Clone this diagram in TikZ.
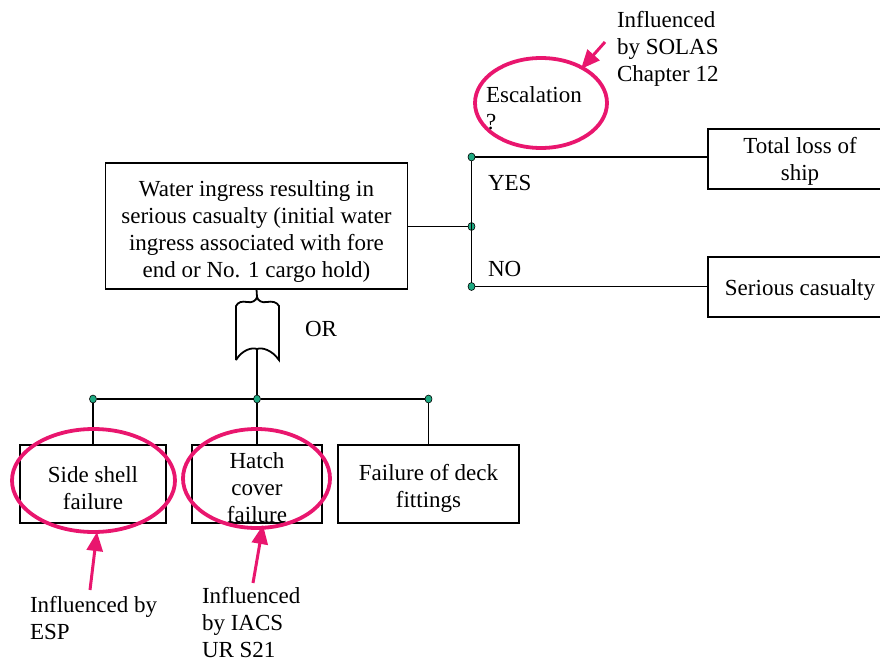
\documentclass[tikz,border=0pt]{standalone}
\usepackage{fontspec}
\setmainfont{Liberation Serif}
\usetikzlibrary{shapes.geometric,arrows.meta}
\definecolor{hl}{RGB}{233,22,110}
\definecolor{dotc}{RGB}{30,170,130}
\begin{document}
\begin{tikzpicture}[x=1pt,y=-1pt,
  every node/.style={font=\fontsize{23}{27}\selectfont, inner sep=0pt, outer sep=0pt},
  box/.style={draw, line width=1.8pt, rectangle},
  txt/.style={align=center},
  conn/.style={line width=1.8pt},
  jdot/.style={ellipse, draw=black, line width=0.6pt, fill=dotc, minimum width=7pt, minimum height=8pt, inner sep=0pt},
  hlell/.style={ellipse, draw=hl, line width=3.8pt},
  hlarrow/.style={draw=hl, line width=3pt, -{Triangle[length=19pt,width=16pt]}},
  lbl/.style={align=left, anchor=north west}]
\useasboundingbox (0,0) rectangle (880,661);

% main box
\node[box, minimum width=302pt, minimum height=126pt] (main) at (256.5,226) {};
\node[txt] (maintxt) at (256.5,231) {Water ingress resulting in\\serious casualty (initial water\\ingress associated with fore\\end or No. 1 cargo hold)};

% right boxes (extend beyond the right edge)
\node[box, minimum width=182pt, minimum height=60pt] (total) at (799,159) {};
\node[txt] (totaltxt) at (800,161) {Total loss of\\ship};
\node[box, minimum width=182pt, minimum height=60pt] (serious) at (799,287) {};
\node[txt] (serioustxt) at (800,289.5) {Serious casualty};

% junction right
\node[jdot] (jtop) at (471.5,157) {};
\node[jdot] (jmid) at (471.5,226.5) {};
\node[jdot] (jbot) at (471.5,286.5) {};
\draw[conn] (main.east |- jmid) -- (jmid);
\draw[conn] (jtop) -- (jbot);
\draw[conn] (jtop) -- (jtop -| total.west);
\draw[conn] (jbot) -- (jbot -| serious.west);
\node[anchor=base west] (yes) at (488,190) {YES};
\node[anchor=base west] (no) at (488,276) {NO};

% escalation
\node[hlell, minimum width=132pt, minimum height=90pt] (esc) at (541,103) {};
\node[lbl] (esctxt) at (486,87) {Escalation\\?};
\node[lbl] (solas) at (617,11) {Influenced\\by SOLAS\\Chapter 12};
\coordinate (solasTail) at (605,42);
\coordinate (solasTip) at (581,69);
\draw[hlarrow] (solasTail) -- (solasTip);

% OR gate
\coordinate (gtop) at (257,297);
\coordinate (gbot) at (257,349);
\draw[conn] (236,360) -- (236,306) .. controls (238,302) and (242,301) .. (247,302)
  .. controls (252,303) and (256,301) .. (gtop)
  .. controls (258,301) and (262,303) .. (267,302)
  .. controls (272,301) and (277,302) .. (279,306) -- (279,360)
  .. controls (272,350) and (262,347) .. (gbot)
  .. controls (252,347) and (242,350) .. (236,360);
\draw[conn] (main.south) -- (gtop);
\node[anchor=base west] (ortxt) at (305,336) {OR};

% bus
\node[jdot] (b1) at (93,399) {};
\node[jdot] (b2) at (257,399) {};
\node[jdot] (b3) at (428.5,399) {};
\draw[conn] (gbot) -- (b2);
\draw[conn] (b1) -- (b2) -- (b3);

% bottom boxes
\node[box, minimum width=146pt, minimum height=78pt] (side) at (93,484) {};
\node[txt] (sidetxt) at (93,488.5) {Side shell\\failure};
\node[box, minimum width=130pt, minimum height=78pt] (hatch) at (257,484) {};
\node[txt] (hatchtxt) at (257,488) {Hatch\\cover\\failure};
\node[box, minimum width=181pt, minimum height=78pt] (deck) at (428.5,484) {};
\node[txt] (decktxt) at (428.5,488.5) {Failure of deck\\fittings};
\draw[conn] (b1) -- (b1 |- side.north);
\draw[conn] (b2) -- (b2 |- hatch.north);
\draw[conn] (b3) -- (b3 |- deck.north);

% highlight ellipses
\node[hlell, minimum width=163pt, minimum height=103pt] (sideell) at (93.5,480.5) {};
\node[hlell, minimum width=147pt, minimum height=99pt] (hatchell) at (256.5,478.5) {};

% annotations
\node[lbl] (esp) at (30,596) {Influenced by\\ESP};
\node[lbl] (iacs) at (202,587) {Influenced\\by IACS\\UR S21};
\coordinate (espTail) at (90,590);
\coordinate (espTip) at (97,532);
\coordinate (iacsTail) at (253,583);
\coordinate (iacsTip) at (263,525);
\draw[hlarrow] (espTail) -- (espTip);
\draw[hlarrow] (iacsTail) -- (iacsTip);
\end{tikzpicture}
\end{document}
